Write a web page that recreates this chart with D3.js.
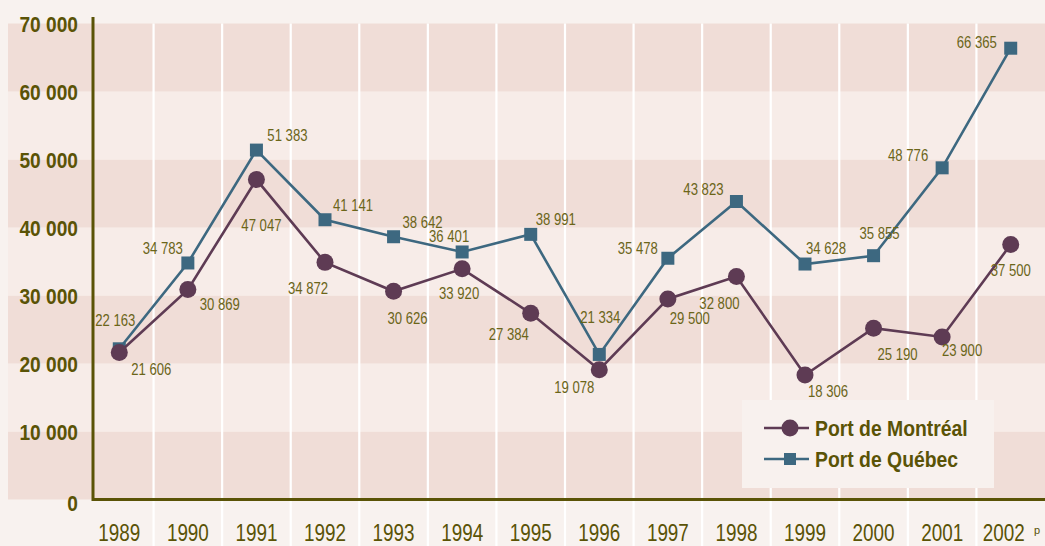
<!DOCTYPE html>
<html>
<head>
<meta charset="utf-8">
<script src="https://cdn.jsdelivr.net/npm/d3@7"></script>
<style>
body { margin: 0; background: #f8f2ef; }
svg { display: block; }
text { font-family: "Liberation Sans", Arial, sans-serif; }
</style>
</head>
<body>
<svg id="chart" width="1045" height="546"></svg>
<script>
// data
const years = ["1989", "1990", "1991", "1992", "1993", "1994", "1995", "1996", "1997", "1998", "1999", "2000", "2001", "2002"];
const montreal = [21606, 30869, 47047, 34872, 30626, 33920, 27384, 19078, 29500, 32800, 18306, 25190, 23900, 37500];
const quebec = [22163, 34783, 51383, 41141, 38642, 36401, 38991, 21334, 35478, 43823, 34628, 35855, 48776, 66365];
const yTicks = [0, 10000, 20000, 30000, 40000, 50000, 60000, 70000];
const seriesNames = ["Port de Montréal", "Port de Québec"];

// label placement (dx, dy from the marker)
const montrealLabelPos = [[32,17],[32,15],[5,46],[-17,26],[14,27],[-3,25],[-22,21],[-25,18],[22,19],[-17,27],[23,16],[24,26],[20,13],[0,26]];
const quebecLabelPos = [[-4,-28],[-25,-15],[31,-15],[28,-14],[29,-14],[-13,-16],[25,-15],[1,-37],[-30,-10],[-33,-12],[21,-16],[6,-22],[-34,-12],[-34,-6]];

const olive = "#5a5306";
const labelColor = "#6b6519";
const mtlColor = "#5e3b54";
const qcColor = "#3d6880";

// squeeze text to look like a narrow face
function narrow(sel, k) {
  sel.each(function(){
    const w = this.getComputedTextLength();
    d3.select(this).attr("textLength", w * k).attr("lengthAdjust", "spacingAndGlyphs");
  });
}

const svg = d3.select("#chart");

const x = d3.scaleBand().domain(years).range([85, 1045]);
const y = d3.scaleLinear().domain([0, 70000]).range([499.5, 23.5]);

const fmt = d3.formatLocale({decimal: ",", thousands: " ", grouping: [3], currency: ["", ""]}).format(",d");

// bands
svg.selectAll("rect.band")
  .data(yTicks.slice(0, -1))
  .enter()
  .append("rect")
  .attr("class", "band")
  .attr("x", 8)
  .attr("y", function(d){ return y(d + 10000); })
  .attr("width", 1045 - 8)
  .attr("height", function(d){ return y(d) - y(d + 10000); })
  .attr("fill", function(d, i){ return i % 2 == 0 ? "#f0ddd7" : "#f7ece8"; });

// vertical white grid lines
svg.selectAll("line.grid")
  .data(years.slice(1))
  .enter()
  .append("line")
  .attr("x1", function(d){ return x(d); })
  .attr("x2", function(d){ return x(d); })
  .attr("y1", y(70000))
  .attr("y2", 546)
  .attr("stroke", "#ffffff")
  .attr("stroke-width", 2.2);

// y axis
const yScaleX = 0.87;
const yAxis = svg.append("g")
  .attr("transform", "translate(93,0)")
  .call(d3.axisLeft(y).tickValues(yTicks).tickSize(0).tickFormat(fmt));
yAxis.select(".domain").remove();
yAxis.selectAll("text")
  .attr("fill", olive)
  .attr("font-size", 22)
  .attr("font-weight", "bold")
  .attr("x", -15 / yScaleX)
  .attr("transform", "scale(" + yScaleX + ",1)")
  .attr("dy", function(d){ return d == 0 ? "0.48em" : "0.35em"; });

// x axis
const xAxis = svg.append("g")
  .attr("transform", "translate(0,499.5)")
  .call(d3.axisBottom(x).tickSize(0).tickPadding(25));
xAxis.select(".domain").remove();
xAxis.selectAll("text")
  .attr("fill", olive)
  .attr("font-size", 23)
  .attr("dx", function(d){ return d == "2002" ? -7 : 0; })
  .call(narrow, 0.82);

svg.append("text")
  .attr("x", 1034)
  .attr("y", 534)
  .attr("fill", olive)
  .attr("font-size", 11)
  .text("p");

// axis lines
svg.append("line")
  .attr("x1", 93).attr("x2", 93)
  .attr("y1", 17).attr("y2", 501)
  .attr("stroke", olive).attr("stroke-width", 3);
svg.append("line")
  .attr("x1", 92).attr("x2", 1045)
  .attr("y1", 499.5).attr("y2", 499.5)
  .attr("stroke", olive).attr("stroke-width", 3);

const cx = function(d, i){ return x(years[i]) + x.bandwidth() / 2; };
const line = d3.line().x(cx).y(function(d){ return y(d); });

// Québec series
svg.append("path")
  .datum(quebec)
  .attr("d", line)
  .attr("fill", "none")
  .attr("stroke", qcColor)
  .attr("stroke-width", 2.6);
svg.selectAll("rect.qc")
  .data(quebec)
  .enter()
  .append("rect")
  .attr("x", function(d, i){ return cx(d, i) - 6.5; })
  .attr("y", function(d){ return y(d) - 6.5; })
  .attr("width", 13)
  .attr("height", 13)
  .attr("fill", qcColor);

// Montréal series
svg.append("path")
  .datum(montreal)
  .attr("d", line)
  .attr("fill", "none")
  .attr("stroke", mtlColor)
  .attr("stroke-width", 2.6);
svg.selectAll("circle.mtl")
  .data(montreal)
  .enter()
  .append("circle")
  .attr("cx", cx)
  .attr("cy", function(d){ return y(d); })
  .attr("r", 8.5)
  .attr("fill", mtlColor);

// value labels
svg.selectAll("text.qcLabel")
  .data(quebec)
  .enter()
  .append("text")
  .attr("x", function(d, i){ return cx(d, i) + quebecLabelPos[i][0]; })
  .attr("y", function(d, i){ return y(d) + quebecLabelPos[i][1]; })
  .attr("text-anchor", "middle")
  .attr("dy", "0.35em")
  .attr("font-size", 16)
  .attr("fill", labelColor)
  .text(fmt)
  .call(narrow, 0.82);

svg.selectAll("text.mtlLabel")
  .data(montreal)
  .enter()
  .append("text")
  .attr("x", function(d, i){ return cx(d, i) + montrealLabelPos[i][0]; })
  .attr("y", function(d, i){ return y(d) + montrealLabelPos[i][1]; })
  .attr("text-anchor", "middle")
  .attr("dy", "0.35em")
  .attr("font-size", 16)
  .attr("fill", labelColor)
  .text(fmt)
  .call(narrow, 0.82);

// legend
const legend = svg.append("g").attr("transform", "translate(742,400)");
legend.append("rect")
  .attr("width", 252).attr("height", 88)
  .attr("fill", "#f8f1ee");
const colors = [mtlColor, qcColor];
seriesNames.forEach(function(name, i){
  const ly = 28 + i * 31;
  legend.append("line")
    .attr("x1", 22).attr("x2", 67)
    .attr("y1", ly).attr("y2", ly)
    .attr("stroke", colors[i]).attr("stroke-width", 2.6);
  if (i == 0) {
    legend.append("circle").attr("cx", 48).attr("cy", ly).attr("r", 8.5).attr("fill", colors[i]);
  } else {
    legend.append("rect").attr("x", 42).attr("y", ly - 6).attr("width", 12).attr("height", 12).attr("fill", colors[i]);
  }
  legend.append("text")
    .attr("x", 73).attr("y", ly)
    .attr("dy", "0.35em")
    .attr("font-size", 22)
    .attr("font-weight", "bold")
    .attr("fill", olive)
    .text(name)
    .call(narrow, 0.88);
});
</script>
</body>
</html>
